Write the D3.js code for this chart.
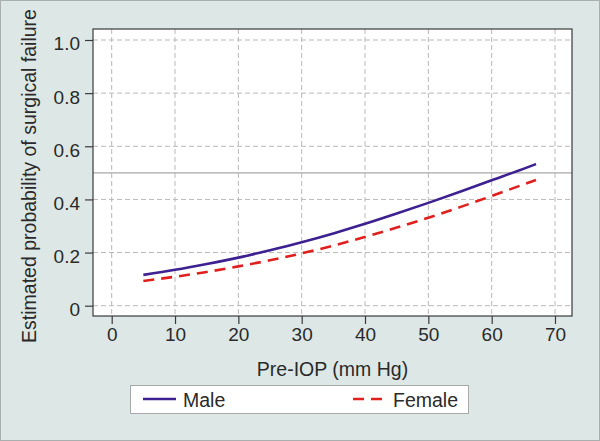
<!DOCTYPE html>
<html>
<head>
<meta charset="utf-8">
<script src="https://cdn.jsdelivr.net/npm/d3@7"></script>
<style>
  body { margin: 0; background: #fff; }
  svg text { font-family: "Liberation Sans", Arial, sans-serif; fill: #2a2a2a; }
</style>
</head>
<body>
<div id="chart"></div>
<script>
// values
var preIop = [5, 10, 15, 20, 25, 30, 35, 40, 45, 50, 55, 60, 65, 67];
var maleProb = [0.116, 0.135, 0.157, 0.181, 0.209, 0.239, 0.272, 0.308, 0.347, 0.387, 0.429, 0.472, 0.515, 0.533];
var femaleProb = [0.093, 0.109, 0.127, 0.148, 0.171, 0.197, 0.226, 0.259, 0.294, 0.331, 0.371, 0.413, 0.456, 0.473];
var xTicks = [0, 10, 20, 30, 40, 50, 60, 70];
var yTicks = [0, 0.2, 0.4, 0.6, 0.8, 1.0];
var refLine = 0.5;
var seriesNames = ["Male", "Female"];

var W = 600, H = 441;
var frame = { left: 93, top: 29, right: 572, bottom: 316 };

var svg = d3.select("#chart").append("svg")
  .attr("width", W)
  .attr("height", H);

// figure background
svg.append("rect")
  .attr("x", 0.5).attr("y", 0.5)
  .attr("width", W - 1).attr("height", H - 1)
  .attr("fill", "#dde8e6")
  .attr("stroke", "#a9afae");

var x = d3.scaleLinear().domain([0, 70]).range([111.7, 555]);
var y = d3.scaleLinear().domain([0, 1]).range([305.7, 40]);

// plot area
svg.append("rect")
  .attr("x", frame.left).attr("y", frame.top)
  .attr("width", frame.right - frame.left)
  .attr("height", frame.bottom - frame.top)
  .attr("fill", "#fff");

// grid
svg.append("g").selectAll("line")
  .data(xTicks)
  .enter().append("line")
  .attr("x1", d => x(d)).attr("x2", d => x(d))
  .attr("y1", frame.top).attr("y2", frame.bottom)
  .attr("stroke", "#b9b9b9")
  .attr("stroke-dasharray", "5,3");

svg.append("g").selectAll("line")
  .data(yTicks)
  .enter().append("line")
  .attr("x1", frame.left).attr("x2", frame.right)
  .attr("y1", d => y(d)).attr("y2", d => y(d))
  .attr("stroke", "#b9b9b9")
  .attr("stroke-dasharray", "5,3");

// reference line at 0.5
svg.append("line")
  .attr("x1", frame.left).attr("x2", frame.right)
  .attr("y1", y(refLine)).attr("y2", y(refLine))
  .attr("stroke", "#a8a8a8")
  .attr("stroke-width", 1.2);

// frame
svg.append("rect")
  .attr("x", frame.left).attr("y", frame.top)
  .attr("width", frame.right - frame.left)
  .attr("height", frame.bottom - frame.top)
  .attr("fill", "none")
  .attr("stroke", "#3a3a3a")
  .attr("stroke-width", 1.2);

// axes
var xAxis = svg.append("g")
  .attr("transform", "translate(0," + frame.bottom + ")")
  .call(d3.axisBottom(x).tickValues(xTicks).tickSize(8).tickPadding(4).tickFormat(d3.format("d")));
xAxis.select(".domain").remove();
xAxis.selectAll("line").attr("stroke", "#3a3a3a").attr("stroke-width", 1.2);
xAxis.selectAll("text").style("font-size", "19px").attr("fill", "#2a2a2a");

var yAxis = svg.append("g")
  .attr("transform", "translate(" + frame.left + ",0)")
  .call(d3.axisLeft(y).tickValues(yTicks).tickSize(8).tickPadding(5)
    .tickFormat(d => d === 0 ? "0" : d3.format(".1f")(d)));
yAxis.select(".domain").remove();
yAxis.selectAll("line").attr("stroke", "#3a3a3a").attr("stroke-width", 1.2);
yAxis.selectAll("text").style("font-size", "19px").attr("fill", "#2a2a2a").attr("dy", "0.52em");

// axis titles
svg.append("text")
  .attr("x", (frame.left + frame.right) / 2)
  .attr("y", 376)
  .attr("text-anchor", "middle")
  .style("font-size", "19.5px")
  .text("Pre-IOP (mm Hg)");

svg.append("text")
  .attr("transform", "translate(36,176) rotate(-90)")
  .attr("text-anchor", "middle")
  .style("font-size", "19.5px")
  .text("Estimated probability of surgical failure");

// lines
var line = d3.line()
  .x((d, i) => x(preIop[i]))
  .y(d => y(d))
  .curve(d3.curveMonotoneX);

svg.append("path")
  .attr("d", line(maleProb))
  .attr("fill", "none")
  .attr("stroke", "#3d2191")
  .attr("stroke-width", 2.6);

svg.append("path")
  .attr("d", line(femaleProb))
  .attr("fill", "none")
  .attr("stroke", "#e0201e")
  .attr("stroke-width", 2.6)
  .attr("stroke-dasharray", "11,7");

// legend
var legend = svg.append("g");
legend.append("rect")
  .attr("x", 130.5).attr("y", 385.5)
  .attr("width", 338).attr("height", 28)
  .attr("fill", "#fff")
  .attr("stroke", "#a9a9a9");

legend.append("line")
  .attr("x1", 143).attr("x2", 176)
  .attr("y1", 399).attr("y2", 399)
  .attr("stroke", "#3d2191").attr("stroke-width", 2.6);
legend.append("text")
  .attr("x", 183).attr("y", 406.5)
  .style("font-size", "19.5px")
  .text(seriesNames[0]);

legend.append("line")
  .attr("x1", 353).attr("x2", 387)
  .attr("y1", 399).attr("y2", 399)
  .attr("stroke", "#e0201e").attr("stroke-width", 2.6)
  .attr("stroke-dasharray", "11,7");
legend.append("text")
  .attr("x", 393).attr("y", 406.5)
  .style("font-size", "19.5px")
  .text(seriesNames[1]);
</script>
</body>
</html>
